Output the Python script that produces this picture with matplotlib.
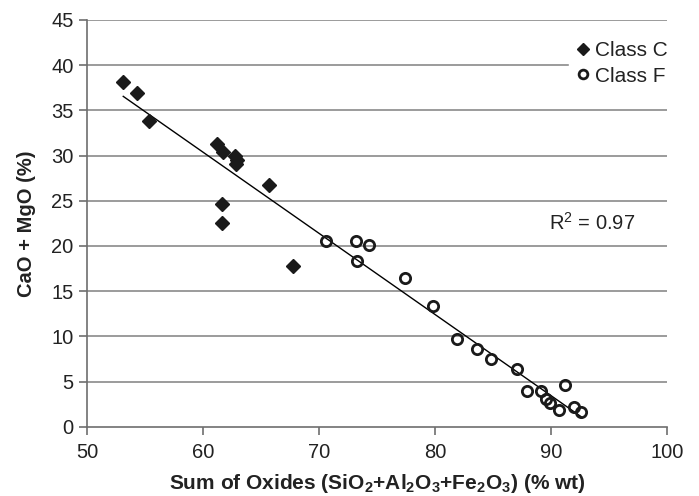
import numpy as np
import matplotlib
matplotlib.use("Agg")
import matplotlib.pyplot as plt

plt.rcParams['font.family'] = ['Liberation Sans', 'DejaVu Sans']
plt.rcParams['mathtext.fontset'] = 'custom'
plt.rcParams['mathtext.rm'] = 'Liberation Sans'
plt.rcParams['mathtext.bf'] = 'Liberation Sans:bold'
plt.rcParams['mathtext.default'] = 'regular'

# Data
class_c_x = [53.1, 54.3, 55.3, 61.2, 61.7, 62.7, 62.9, 62.8, 65.7, 61.6, 61.6, 67.7]
class_c_y = [38.1, 36.9, 33.8, 31.3, 30.4, 29.9, 29.5, 29.1, 26.7, 24.6, 22.5, 17.8]
class_f_x = [70.6, 73.2, 74.3, 73.3, 77.4, 79.8, 81.9, 83.6, 84.8, 87.05, 87.9, 89.1,
             89.6, 89.9, 90.7, 91.2, 92.0, 92.6]
class_f_y = [20.6, 20.6, 20.1, 18.3, 16.5, 13.35, 9.7, 8.6, 7.5, 6.4, 4.0, 4.0,
             3.1, 2.6, 1.9, 4.6, 2.2, 1.6]
x_ticks = [50, 60, 70, 80, 90, 100]
y_ticks = [0, 5, 10, 15, 20, 25, 30, 35, 40, 45]
r2_text = 'R$^2$ = 0.97'

fig = plt.figure(figsize=(6.99, 4.96), dpi=100)
ax = fig.add_axes([87.3 / 699, 1 - 426.7 / 496, (667 - 87.3) / 699, (426.7 - 20) / 496])

ax.set_xlim(50, 100)
ax.set_ylim(0, 45)
ax.set_xticks(x_ticks)
ax.set_yticks(y_ticks)
for y in y_ticks[1:]:
    ax.axhline(y, color='#8a8a8a', lw=1.2, zorder=0)

ax.plot(class_c_x, class_c_y, linestyle='none', marker='D', ms=7.5, color='#1a1a1a',
        mec='#1a1a1a', label='Class C', zorder=3)
ax.plot(class_f_x, class_f_y, linestyle='none', marker='o', ms=7.4, mfc='none',
        mec='#1a1a1a', mew=2.0, label='Class F', zorder=3)

all_x = np.array(class_c_x + class_f_x)
all_y = np.array(class_c_y + class_f_y)
k, b = np.polyfit(all_x, all_y, 1)
xl = np.array([all_x.min(), all_x.max()])
ax.plot(xl, k * xl + b, color='black', lw=1.0, zorder=2)

ax.text(93.5, 22.5, r2_text, fontsize=14.5, ha='center', va='center', color='#222222')

for s in ['top', 'right']:
    ax.spines[s].set_visible(False)
for s in ['left', 'bottom']:
    ax.spines[s].set_color('#6e6e6e')
    ax.spines[s].set_linewidth(1.2)
ax.tick_params(axis='both', direction='out', length=6, width=1.2, color='#6e6e6e',
               labelsize=14.5, labelcolor='#222222', pad=4)
ax.tick_params(axis='x', pad=6)

ax.set_xlabel(r'Sum of Oxides (SiO$_{\mathbf{2}}$+Al$_{\mathbf{2}}$O$_{\mathbf{3}}$+Fe$_{\mathbf{2}}$O$_{\mathbf{3}}$) (% wt)',
              fontsize=15, fontweight='bold', color='#222222', labelpad=7)
ax.set_ylabel('CaO + MgO (%)', fontsize=14.5, fontweight='bold', color='#222222', labelpad=11)

leg = ax.legend(loc='center left', bbox_to_anchor=(0.831, 0.893), frameon=True,
                fancybox=False, framealpha=1, edgecolor='white', facecolor='white',
                fontsize=15, handlelength=0.7, handletextpad=0.25, labelspacing=0.3,
                borderpad=0.3, markerscale=0.85, borderaxespad=0)
for t in leg.get_texts():
    t.set_color('#222222')

fig.savefig('out.png', dpi=100)
